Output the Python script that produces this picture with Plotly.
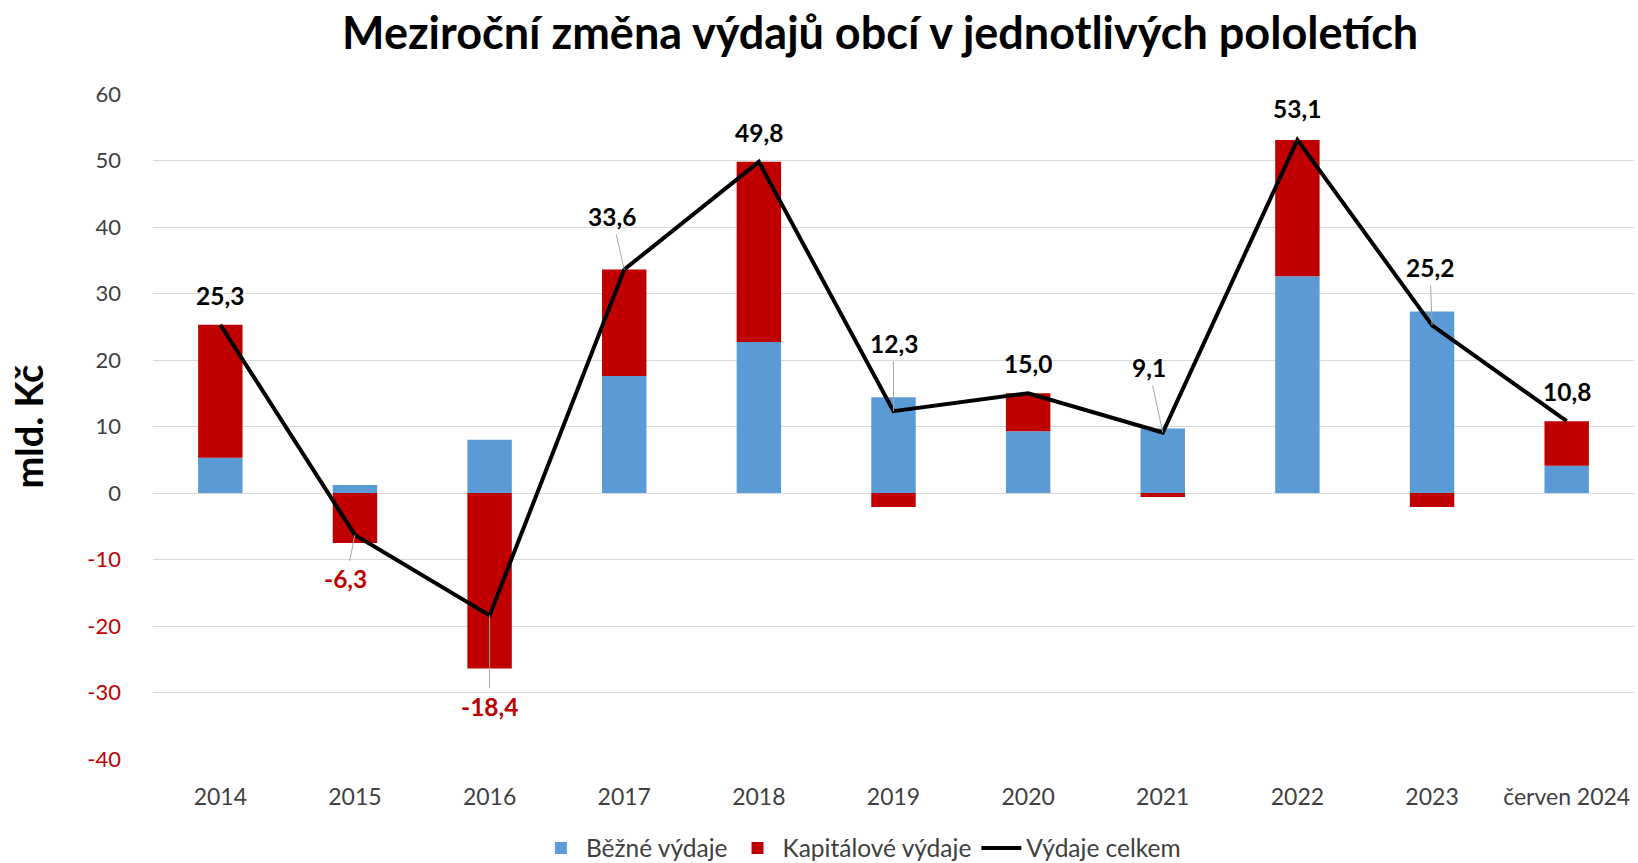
import plotly.graph_objects as go

categories = ["2014", "2015", "2016", "2017", "2018", "2019", "2020", "2021", "2022", "2023", "červen 2024"]
bezne = [5.3, 1.2, 8.0, 17.6, 22.7, 14.4, 9.3, 9.7, 32.6, 27.3, 4.1]
kapitalove = [20.0, -7.5, -26.4, 16.0, 27.1, -2.1, 5.7, -0.6, 20.5, -2.1, 6.7]
celkem = [25.3, -6.3, -18.4, 33.6, 49.8, 12.3, 15.0, 9.1, 53.1, 25.2, 10.8]
labels = ["25,3", "-6,3", "-18,4", "33,6", "49,8", "12,3", "15,0", "9,1", "53,1", "25,2", "10,8"]
y_ticks = [60, 50, 40, 30, 20, 10, 0, -10, -20, -30, -40]

# label offsets (px) and leader flags
lbl_dx = [0, -9, 0, -12, 0, 0, 0, -14, 0, -2, 0]
lbl_dy = [-29, 44, 91, -53, -29, -68, -30, -65, -31, -58, -30]
leader = [False, True, True, True, False, True, False, True, False, True, False]

FONT = "Lato, 'Open Sans', sans-serif"
BLUE = "#5b9bd5"
RED = "#c00000"

fig = go.Figure()
fig.add_trace(go.Bar(x=categories, y=bezne, name="Běžné výdaje", marker_color=BLUE,
                     marker_line_width=0, width=0.33))
fig.add_trace(go.Bar(x=categories, y=kapitalove, name="Kapitálové výdaje", marker_color=RED,
                     marker_line_width=0, width=0.33))
fig.add_trace(go.Scatter(x=categories, y=celkem, name="Výdaje celkem", mode="lines",
                         line=dict(color="black", width=4)))

annotations = []
for i, (v, t, dx, dy, ld) in enumerate(zip(celkem, labels, lbl_dx, lbl_dy, leader)):
    col = RED if v < 0 else "black"
    f = dict(family=FONT, size=24.5, color=col, weight="bold")
    if ld:
        annotations.append(dict(x=i, y=v, xref="x", yref="y", text=t, showarrow=True,
                                ax=dx, ay=dy, arrowhead=0, arrowwidth=1, arrowcolor="#a6a6a6",
                                startstandoff=2, standoff=0, font=f))
    else:
        annotations.append(dict(x=i, y=v, xref="x", yref="y", text=t, showarrow=False,
                                xshift=dx, yshift=-dy, font=f))

annotations.append(dict(x=-0.085, xref="paper", y=0.5, yref="paper", text="<b>mld. Kč</b>",
                        textangle=-90, showarrow=False, xanchor="center", yanchor="middle",
                        font=dict(family=FONT, size=38, color="black")))

tick_text = []
for v in y_ticks:
    if v < 0:
        tick_text.append(f'<span style="color:{RED}">{v}</span>')
    else:
        tick_text.append(str(v))

fig.update_layout(
    barmode="relative",
    width=1638, height=863,
    margin=dict(l=153, r=4, t=94, b=104, autoexpand=False),
    paper_bgcolor="white", plot_bgcolor="white",
    font=dict(family=FONT, size=22, color="#404040"),
    title=dict(text="<b>Meziroční změna výdajů obcí v jednotlivých pololetích</b>",
               x=0.491, xref="paper", xanchor="center", y=0.962, yref="container", yanchor="middle",
               font=dict(family=FONT, size=45, color="black")),
    xaxis=dict(type="category", range=[-0.5, 10.5], showgrid=False, showline=False,
               automargin=False,
               ticks="", ticklabelstandoff=22, tickfont=dict(size=23, color="#404040")),
    yaxis=dict(range=[-40, 60], tickvals=y_ticks, ticktext=tick_text, showgrid=True,
               automargin=False,
               gridcolor="#d9d9d9", gridwidth=1, zeroline=True, zerolinecolor="#d9d9d9",
               zerolinewidth=1, ticks="", ticklabelstandoff=31,
               tickfont=dict(size=22, color="#404040")),
    legend=dict(orientation="h", x=0.478, xanchor="center", y=0.0174, yref="container",
                yanchor="middle",
                font=dict(size=24.5, color="#404040"), traceorder="normal", itemwidth=40),
    annotations=annotations,
    showlegend=True,
)

fig.write_html("out.html", config={"displayModeBar": False},
               post_script="document.body.style.margin='0';document.body.style.overflow='hidden';")
